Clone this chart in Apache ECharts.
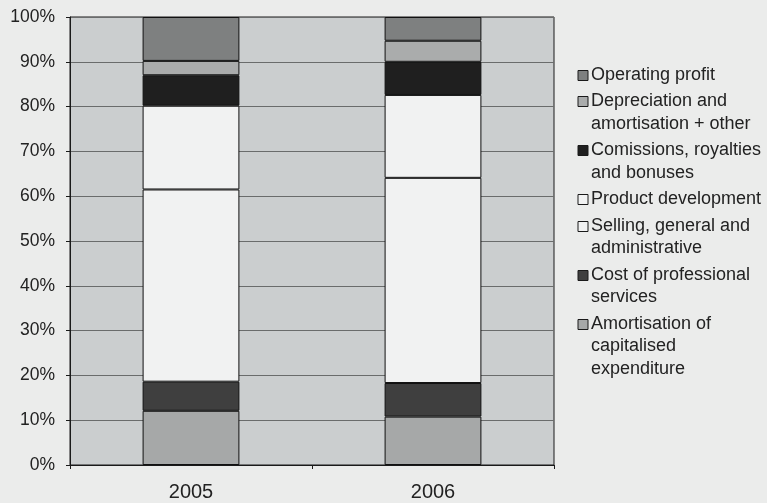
<!DOCTYPE html>
<html>
<head>
<meta charset="utf-8">
<title>Cost structure 2005–2006</title>
<script src="https://cdn.jsdelivr.net/npm/echarts@6/dist/echarts.min.js"></script>
<style>
  html, body { margin: 0; padding: 0; background: #ebeceb; }
  #chart { width: 767px; height: 503px; }
</style>
</head>
<body>
<div id="chart"></div>
<script>
// Share of revenue by cost item, per year (percent of total)
const years = ['2005', '2006'];
const amortisation = [12.1, 10.8];
const professionalServices = [6.5, 7.5];
const sellingGeneral = [42.9, 45.8];
const productDevelopment = [18.7, 18.5];
const commissions = [6.8, 7.4];
const depreciation = [3.2, 4.7];
const operatingProfit = [9.8, 5.3];
const yTicks = [0, 10, 20, 30, 40, 50, 60, 70, 80, 90, 100];

// Key text, wrapped as printed
const legendLabels = {
  'Operating profit': ['Operating profit'],
  'Depreciation and amortisation + other': ['Depreciation and', 'amortisation + other'],
  'Comissions, royalties and bonuses': ['Comissions, royalties', 'and bonuses'],
  'Product development': ['Product development'],
  'Selling, general and administrative': ['Selling, general and', 'administrative'],
  'Cost of professional services': ['Cost of professional', 'services'],
  'Amortisation of capitalised expenditure': ['Amortisation of', 'capitalised', 'expenditure']
};

const seriesDefs = [
  { name: 'Amortisation of capitalised expenditure', data: amortisation, color: '#a6a8a8' },
  { name: 'Cost of professional services', data: professionalServices, color: '#3f3f3f' },
  { name: 'Selling, general and administrative', data: sellingGeneral, color: '#f1f2f2' },
  { name: 'Product development', data: productDevelopment, color: '#f1f2f2' },
  { name: 'Comissions, royalties and bonuses', data: commissions, color: '#1f1f1f' },
  { name: 'Depreciation and amortisation + other', data: depreciation, color: '#aaacac' },
  { name: 'Operating profit', data: operatingProfit, color: '#7e8080' }
];

const FONT = 'Liberation Sans, Arial, sans-serif';

// Key on the right: square swatch level with the first line of each wrapped label
function buildKey() {
  const KEY_X = 578, TEXT_X = 591, FIRST_Y = 75, LINE = 22.5, GAP = 4, BOX = 11;
  const out = [];
  let y = FIRST_Y;
  seriesDefs.slice().reverse().forEach(function (s) {
    const lines = legendLabels[s.name];
    out.push({
      type: 'rect',
      shape: { x: KEY_X, y: Math.round(y - BOX / 2) + 0.5, width: BOX - 1, height: BOX - 1 },
      style: { fill: s.color, stroke: '#1a1a1a', lineWidth: 1 },
      silent: true
    });
    out.push({
      type: 'text',
      x: TEXT_X,
      y: y - LINE / 2,
      style: {
        text: lines.join('\n'),
        font: '18px ' + FONT,
        lineHeight: LINE,
        fill: '#222',
        textVerticalAlign: 'top',
        verticalAlign: 'top'
      },
      silent: true
    });
    y += lines.length * LINE + GAP;
  });
  return out;
}

const chart = echarts.init(document.getElementById('chart'), null, { renderer: 'canvas' });
chart.setOption({
  backgroundColor: '#ebeceb',
  animation: false,
  textStyle: { fontFamily: FONT, color: '#222' },
  grid: {
    left: 70, right: 213, top: 17, bottom: 38,
    show: true, backgroundColor: '#cbcecf', borderColor: '#1a1a1a', borderWidth: 1
  },
  legend: { show: false, data: seriesDefs.map(function (s) { return s.name; }) },
  graphic: buildKey(),
  xAxis: {
    type: 'category',
    data: years,
    axisLine: { show: true, lineStyle: { color: '#1a1a1a', width: 1 } },
    axisTick: { show: true, length: 4, lineStyle: { color: '#1a1a1a' } },
    axisLabel: { fontSize: 20, color: '#222', margin: 17 },
    splitLine: { show: false }
  },
  yAxis: {
    type: 'value',
    min: yTicks[0],
    max: yTicks[yTicks.length - 1],
    interval: yTicks[1] - yTicks[0],
    axisLine: { show: true, lineStyle: { color: '#1a1a1a', width: 1 } },
    axisTick: { show: true, length: 4, lineStyle: { color: '#1a1a1a' } },
    axisLabel: { fontSize: 17.5, color: '#222', margin: 15, formatter: '{value}%' },
    splitLine: { show: true, lineStyle: { color: '#6a6c6c', width: 1 } }
  },
  series: seriesDefs.map(function (s) {
    return {
      name: s.name,
      type: 'bar',
      stack: 'total',
      barWidth: '40%',
      data: s.data,
      itemStyle: { color: s.color, borderColor: '#111', borderWidth: 1 },
      emphasis: { disabled: true }
    };
  })
});
</script>
</body>
</html>
